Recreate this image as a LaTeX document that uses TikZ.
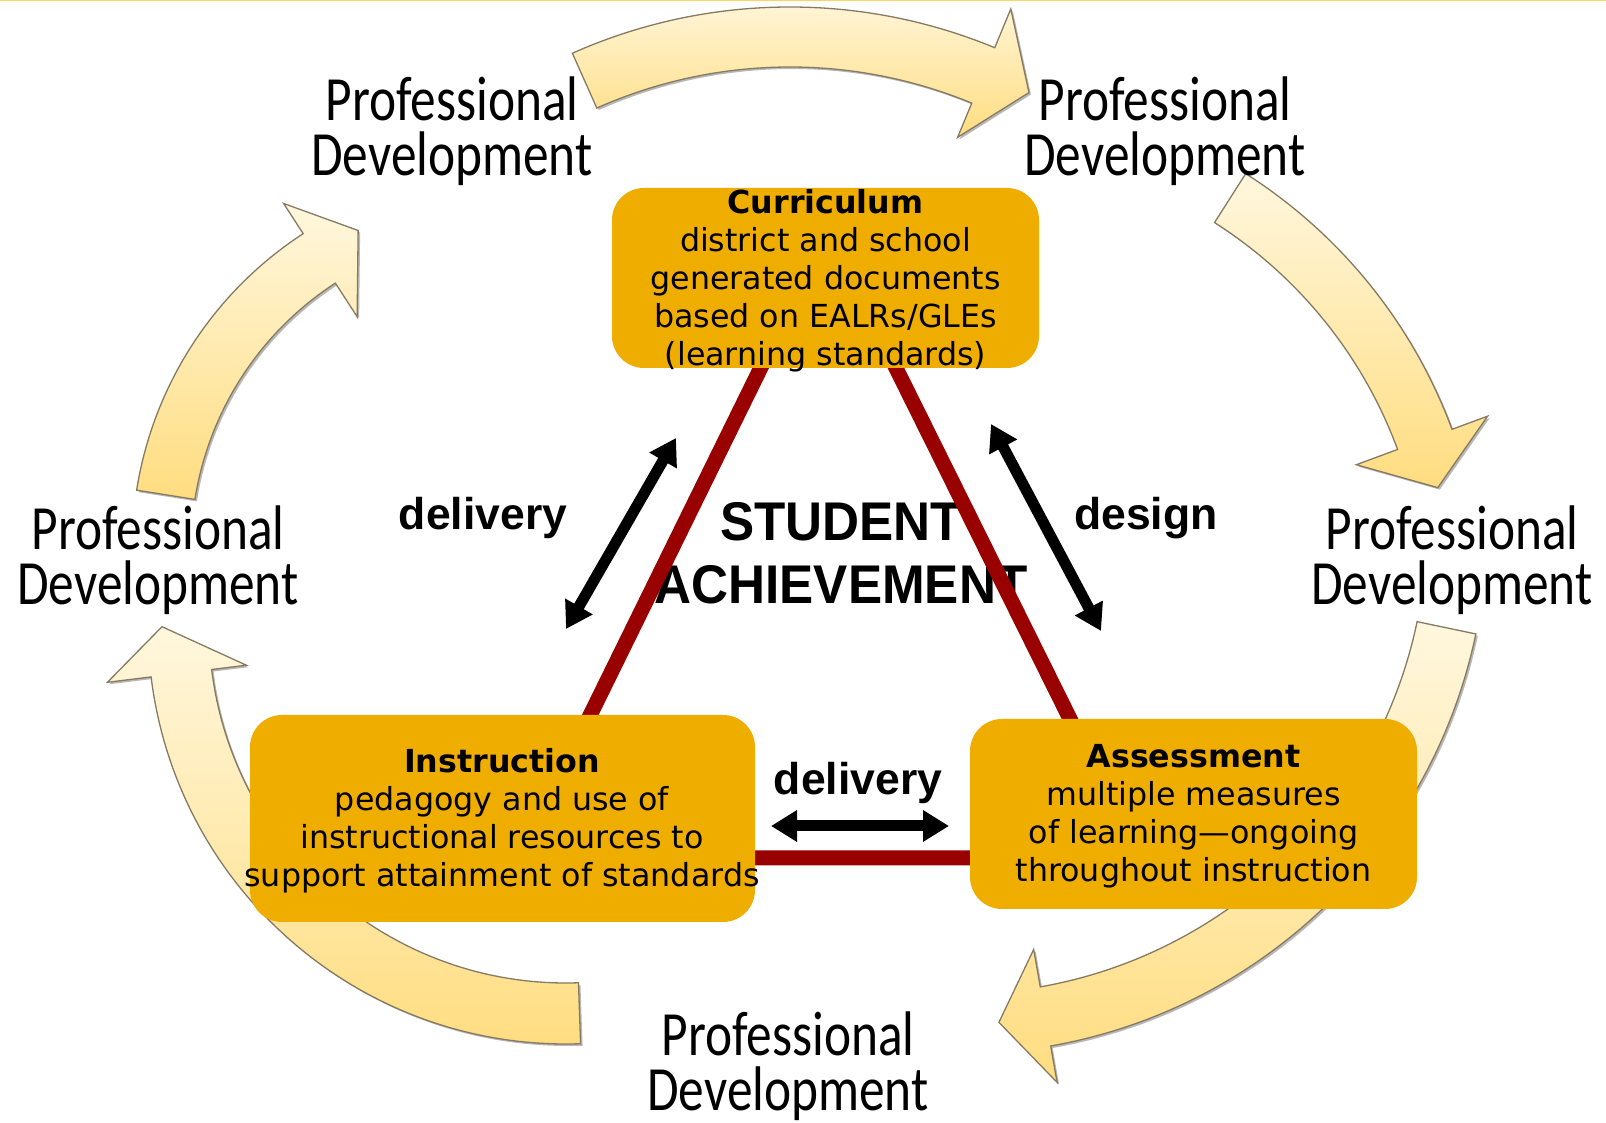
\documentclass[tikz,border=0pt]{standalone}
\usepackage{fontspec}
\setmainfont{DejaVu Sans}
\newfontfamily\pdfont{Carlito}
\newfontfamily\arialf{Liberation Sans}
\usetikzlibrary{arrows.meta}
\definecolor{boxfill}{RGB}{239,173,0}
\definecolor{redline}{RGB}{153,0,0}
\definecolor{arrlight}{RGB}{255,247,222}
\definecolor{arrdark}{RGB}{255,221,128}
\definecolor{arredge}{RGB}{135,122,98}
\definecolor{topyel}{RGB}{255,212,95}
\newcommand\stk[2]{\vtop{\baselineskip=#1\relax\lineskiplimit=-1000pt\relax\lineskip=0pt\relax\halign{\hfil##\hfil\cr#2\crcr}}}
\newcommand\bandarrow[9]{%
  \begin{scope}[shift={(#1,#2)}]
    \fill[arrshadow] (#5:#3) arc[start angle=#5,end angle=#6,radius=#3] -- (#6:#8) -- (#7) -- (#6:#9) -- (#6:#4) arc[start angle=#6,end angle=#5,radius=#4] -- cycle;
    \path[arrbody] (#5:#3) arc[start angle=#5,end angle=#6,radius=#3] -- (#6:#8) -- (#7) -- (#6:#9) -- (#6:#4) arc[start angle=#6,end angle=#5,radius=#4] -- cycle;
  \end{scope}}
\begin{document}
\begin{tikzpicture}[x=1pt,y=1pt,
  boxsty/.style={fill=boxfill, rounded corners=32pt, inner sep=0pt},
  boxtxt/.style={font=\fontsize{31.7}{38}\selectfont, inner sep=0pt},
  redtri/.style={draw=redline, line width=15pt, line join=miter},
  blackarr/.style={line width=11pt, >={Triangle[length=26pt,width=30pt]}, <->},
  lbl/.style={font=\arialf\bfseries\fontsize{44.5}{50}\selectfont, inner sep=0pt},
  pdlbl/.style={font=\pdfont\fontsize{63}{55}\selectfont, inner sep=0pt},
  bigtxt/.style={font=\arialf\bfseries\fontsize{54.5}{63}\selectfont, inner sep=0pt},
  arrbody/.style={top color=arrlight, bottom color=arrdark, draw=arredge, line width=1.3pt},
  arrshadow/.style={fill=black, opacity=0.28, shift={(2,-2)}}]
\useasboundingbox (0,0) rectangle (1606,1123);
\fill[white] (0,0) rectangle (1606,1123);
\draw[topyel, line width=3pt] (0,1123) -- (1606,1123);
% curved block arrows (professional development cycle)
\bandarrow{790}{581}{535}{475}{114}{67.5}{62:509}{577}{438}
\bandarrow{969}{515}{515}{457}{57.5}{20.3}{14.4:484}{553}{413}
\bandarrow{959}{597}{528}{468}{-11.8}{-80}{-85.4:498}{565}{430}
\bandarrow{566}{497}{418}{357}{272}{187}{180.1:404}{462}{322}
\bandarrow{508}{574}{376}{317}{171}{123}{115.2:352}{412}{277}
% centre text
\node[bigtxt, anchor=base] (sa) at (841,582) {\scalebox{0.94}[1]{\stk{63pt}{STUDENT\cr ACHIEVEMENT}}};
% red triangle
\coordinate (apex) at (828,892);
\coordinate (bl) at (520,265);
\coordinate (br) at (1139,265);
\draw[redtri] (apex) -- (bl) -- (br) -- cycle;
% boxes
\node[boxsty, minimum width=427pt, minimum height=180pt] (cur) at (825.5,845) {};
\node[boxtxt, anchor=base] (curtxt) at (825.5,909) {\stk{38pt}{\bfseries Curriculum\cr district and school\cr generated documents\cr based on EALRs/GLEs\cr (learning standards)}};
\node[boxsty, minimum width=505pt, minimum height=207pt] (ins) at (502.5,304.5) {};
\node[boxtxt, anchor=base] (instxt) at (502,350) {\stk{38pt}{\bfseries Instruction\cr pedagogy and use of\cr instructional resources to\cr support attainment of standards}};
\node[boxsty, minimum width=447pt, minimum height=190pt] (ass) at (1193.5,309) {};
\node[boxtxt, anchor=base] (asstxt) at (1193.5,355) {\stk{38pt}{\bfseries Assessment\cr multiple measures\cr of learning—ongoing\cr throughout instruction}};
% black double arrows
\coordinate (la1) at (566,494); \coordinate (la2) at (676,685);
\coordinate (ra1) at (991,699); \coordinate (ra2) at (1101,492);
\coordinate (ba1) at (771,297); \coordinate (ba2) at (949,297);
\draw[blackarr] (la1) -- (la2);
\draw[blackarr] (ra1) -- (ra2);
\draw[blackarr] (ba1) -- (ba2);
% labels
\node[lbl, anchor=base] (dl) at (483,593) {delivery};
\node[lbl, anchor=base] (dg) at (1146,593) {design};
\node[lbl, anchor=base] (db) at (858,328) {delivery};
% professional development labels
\node[pdlbl, anchor=base] (pd1) at (452,1002) {\scalebox{0.815}[1]{\stk{55pt}{Professional\cr Development}}};
\node[pdlbl, anchor=base] (pd2) at (1165,1002) {\scalebox{0.815}[1]{\stk{55pt}{Professional\cr Development}}};
\node[pdlbl, anchor=base] (pd3) at (1452,573) {\scalebox{0.815}[1]{\stk{55pt}{Professional\cr Development}}};
\node[pdlbl, anchor=base] (pd4) at (788,67) {\scalebox{0.815}[1]{\stk{55pt}{Professional\cr Development}}};
\node[pdlbl, anchor=base] (pd5) at (158,573) {\scalebox{0.815}[1]{\stk{55pt}{Professional\cr Development}}};
\end{tikzpicture}
\end{document}
